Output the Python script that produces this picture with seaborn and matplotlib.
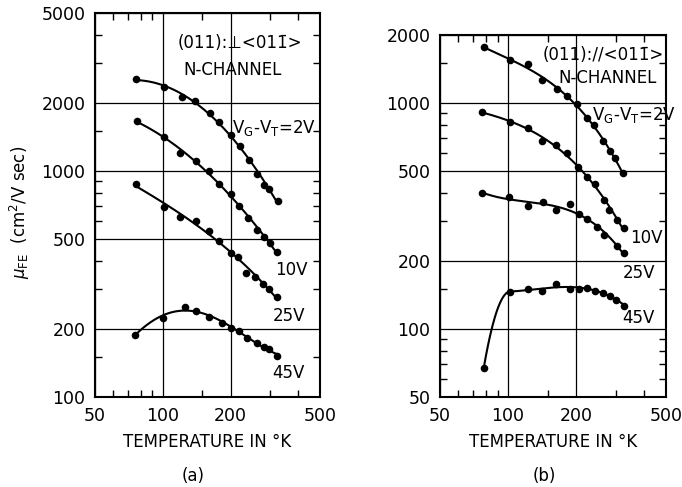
import matplotlib
matplotlib.use("Agg")
import matplotlib.pyplot as plt
import matplotlib.ticker as mticker
import numpy as np
import pandas as pd
import seaborn as sns

# panel (a): (011) plane, current perpendicular to <011>
temp_a_2v = [76, 101, 122, 139, 162, 178, 200, 220, 241, 263, 282, 298, 325]
mu_a_2v = [2554, 2345, 2119, 2047, 1811, 1647, 1448, 1290, 1119, 970, 867, 832, 739]
temp_a_10v = [77, 101, 119, 141, 161, 177, 202, 219, 239, 263, 282, 300, 323]
mu_a_10v = [1660, 1410, 1205, 1104, 1003, 876, 791, 700, 618, 548, 509, 479, 439]
temp_a_25v = [76, 101, 119, 140, 161, 178, 201, 217, 235, 257, 280, 298, 321]
mu_a_25v = [873, 695, 628, 601, 544, 492, 435, 418, 353, 341, 316, 300, 278]
temp_a_45v = [75, 100, 125, 141, 161, 183, 200, 219, 236, 262, 282, 298, 321]
mu_a_45v = [188, 223, 250, 241, 227, 213, 203, 195, 182, 174, 167, 163, 152]

# panel (b): (011) plane, current parallel to <011>
temp_b_2v = [78, 102, 122, 142, 164, 182, 201, 224, 240, 264, 283, 298, 321]
mu_b_2v = [1763, 1549, 1483, 1264, 1149, 1077, 990, 855, 799, 681, 615, 569, 488]
temp_b_10v = [77, 102, 123, 142, 163, 182, 203, 224, 243, 266, 281, 303, 326]
mu_b_10v = [912, 821, 777, 681, 652, 599, 522, 472, 437, 372, 336, 304, 279]
temp_b_25v = [77, 101, 123, 143, 163, 188, 206, 224, 247, 266, 302, 327]
mu_b_25v = [401, 382, 350, 366, 336, 356, 323, 306, 282, 261, 234, 216]
temp_b_45v = [78, 102, 123, 142, 163, 187, 206, 223, 243, 264, 283, 300, 327]
mu_b_45v = [67, 146, 151, 147, 158, 151, 151, 152, 147, 145, 140, 135, 127]

gate_labels = ["2V", "10V", "25V", "45V"]
x_major = [50, 100, 200, 500]
x_minor = [60, 70, 80, 90, 150, 300, 400]
y_major_a = [100, 200, 500, 1000, 2000, 5000]
y_minor_a = [150, 300, 400, 600, 700, 800, 900, 1500, 3000, 4000]
y_major_b = [50, 100, 200, 500, 1000, 2000]
y_minor_b = [60, 70, 80, 90, 150, 300, 400, 600, 700, 800, 900, 1500]

# polynomial degree of the log-log fit per gate voltage
fit_deg_a = [3, 3, 3, 4]
fit_deg_b = [3, 3, 3, 3]
# the 45V curve of (b) climbs steeply from its first point: fit the rest,
# then bend into the first point
steep_start_b = [False, False, False, True]


def make_frame(temps, mus):
    rows = []
    for gate, t, m in zip(gate_labels, temps, mus):
        rows.append(pd.DataFrame({"gate": gate, "T": t, "mu": m}))
    return pd.concat(rows, ignore_index=True)


def fit_curve(df, degs, steep=None):
    # smooth curve through each series, fitted in log-log space
    steep = steep or [False] * len(degs)
    out = []
    for (gate, g), deg, st in zip(df.groupby("gate", sort=False), degs, steep):
        lx = np.log10(g["T"].to_numpy())
        ly = np.log10(g["mu"].to_numpy())
        if st:
            coef = np.polyfit(lx[1:], ly[1:], deg)
            x1 = lx[1]
            y1 = np.polyval(coef, x1)
            s1 = np.polyval(np.polyder(coef), x1)
            c = (ly[0] - y1 - s1 * (lx[0] - x1)) / (lx[0] - x1) ** 2
            xa = np.linspace(lx[0], x1, 60)
            ya = y1 + s1 * (xa - x1) + c * (xa - x1) ** 2
            xb = np.linspace(x1, lx.max(), 160)
            xs = np.concatenate([xa, xb])
            ys = np.concatenate([ya, np.polyval(coef, xb)])
        else:
            coef = np.polyfit(lx, ly, deg)
            xs = np.linspace(lx.min(), lx.max(), 200)
            ys = np.polyval(coef, xs)
        out.append(pd.DataFrame({"gate": gate, "T": 10 ** xs, "mu": 10 ** ys}))
    return pd.concat(out, ignore_index=True)


sns.set_style("ticks")
plt.rcParams["font.family"] = ["DejaVu Sans"]
plt.rcParams.update({"text.color": "black", "axes.labelcolor": "black",
                     "xtick.color": "black", "ytick.color": "black"})

fig = plt.figure(figsize=(6.82, 4.87), dpi=100)
ax_a = fig.add_axes([0.1393, 0.1848, 0.3300, 0.7885])
ax_b = fig.add_axes([0.6452, 0.1848, 0.3314, 0.7433])

df_a = make_frame([temp_a_2v, temp_a_10v, temp_a_25v, temp_a_45v],
                  [mu_a_2v, mu_a_10v, mu_a_25v, mu_a_45v])
df_b = make_frame([temp_b_2v, temp_b_10v, temp_b_25v, temp_b_45v],
                  [mu_b_2v, mu_b_10v, mu_b_25v, mu_b_45v])

panels = [(ax_a, df_a, y_major_a, y_minor_a, fit_deg_a, None),
          (ax_b, df_b, y_major_b, y_minor_b, fit_deg_b, steep_start_b)]
for ax, df, ymaj, ymin, degs, steep in panels:
    ax.set_xscale("log")
    ax.set_yscale("log")
    curves = fit_curve(df, degs, steep)
    sns.lineplot(data=curves, x="T", y="mu", units="gate", estimator=None,
                 color="black", lw=1.5, ax=ax, sort=False)
    sns.scatterplot(data=df, x="T", y="mu", color="black", s=30,
                    edgecolor="black", linewidth=0, ax=ax, zorder=3)
    ax.set_xlim(50, 500)
    ax.set_ylim(ymaj[0], ymaj[-1])
    ax.xaxis.set_major_locator(mticker.FixedLocator(x_major))
    ax.xaxis.set_minor_locator(mticker.FixedLocator(x_minor))
    ax.yaxis.set_major_locator(mticker.FixedLocator(ymaj))
    ax.yaxis.set_minor_locator(mticker.FixedLocator(ymin))
    fmt = mticker.FuncFormatter(lambda v, p: f"{v:g}")
    ax.xaxis.set_major_formatter(fmt)
    ax.yaxis.set_major_formatter(fmt)
    ax.xaxis.set_minor_formatter(mticker.NullFormatter())
    ax.yaxis.set_minor_formatter(mticker.NullFormatter())
    ax.tick_params(which="major", length=0, pad=7, labelsize=12.5)
    ax.tick_params(which="minor", direction="in", length=5, width=1,
                   top=True, right=True)
    ax.grid(True, which="major", color="black", lw=0.9)
    for sp in ax.spines.values():
        sp.set_linewidth(1.5)
        sp.set_color("black")
    ax.set_xlabel("TEMPERATURE IN °K", fontsize=12, labelpad=6)
    ax.set_ylabel("")


def ptext(x, y, s, ha="left", size=12):
    return fig.text(x / 682, 1 - y / 487, s, ha=ha, va="center", fontsize=size)


ptext(20, 212, r"$\mu_{\rm FE}$  (cm$^2$/V sec)", ha="center").set_rotation(90)
ptext(193, 476, "(a)", ha="center")
ptext(544, 476, "(b)", ha="center")

# panel (a) labels
ptext(240, 43, "(011):⊥<011\u0304>", ha="center")
ptext(233, 70, "N-CHANNEL", ha="center")
ptext(232, 128, r"V$_{\rm G}$-V$_{\rm T}$=2V")
ptext(275, 270, "10V")
ptext(273, 316, "25V")
ptext(272, 373, "45V")

# panel (b) labels
ptext(603, 55, "(011)://<011\u0304>", ha="center")
ptext(608, 78, "N-CHANNEL", ha="center")
ptext(592, 115, r"V$_{\rm G}$-V$_{\rm T}$=2V")
ptext(630, 238, "10V")
ptext(623, 273, "25V")
ptext(622, 318, "45V")

fig.savefig("out.png", dpi=100)
